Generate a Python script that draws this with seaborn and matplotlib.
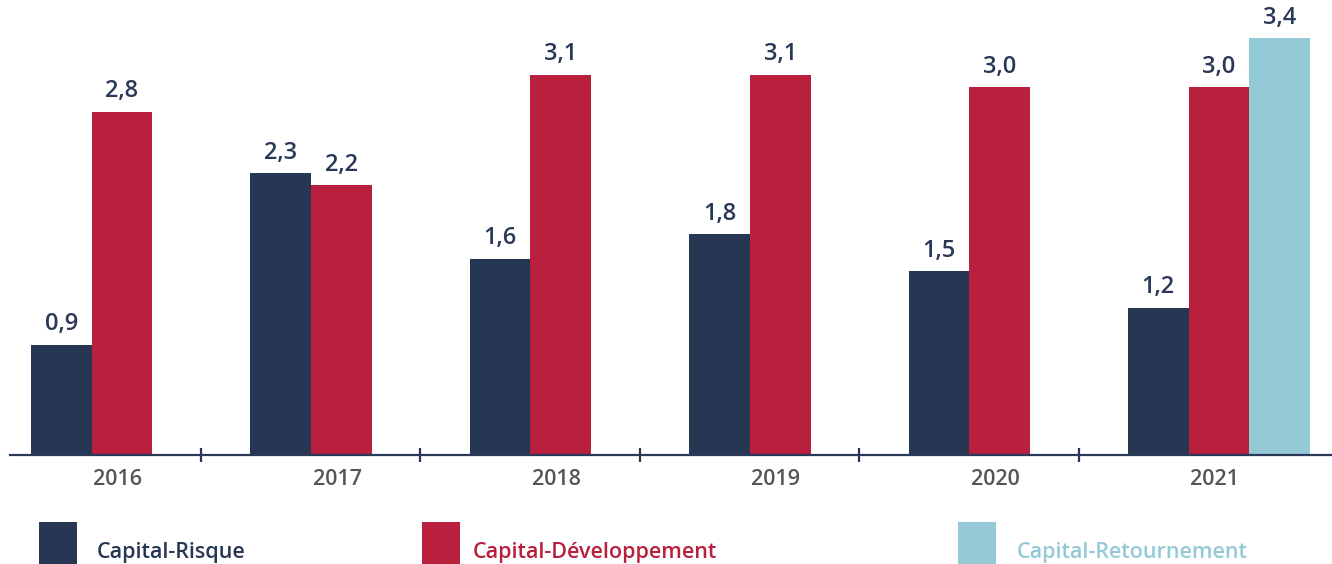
import pandas as pd
import matplotlib.pyplot as plt
import seaborn as sns
from matplotlib.patches import Rectangle

# values
years = ['2016', '2017', '2018', '2019', '2020', '2021']
risque = [0.9, 2.3, 1.6, 1.8, 1.5, 1.2]
developpement = [2.8, 2.2, 3.1, 3.1, 3.0, 3.0]
retournement_years = ['2021']
retournement = [3.4]

series = ['Capital-Risque', 'Capital-Développement', 'Capital-Retournement']
colors = ['#263653', '#B8203E', '#93CAD6']

rows = []
for y, v in zip(years, risque):
    rows.append([y, series[0], v])
for y, v in zip(years, developpement):
    rows.append([y, series[1], v])
for y, v in zip(retournement_years, retournement):
    rows.append([y, series[2], v])
df = pd.DataFrame(rows, columns=['year', 'type', 'value'])

sns.set_style('white')
plt.rcParams['font.family'] = ['Open Sans', 'DejaVu Sans']

W, H = 1332, 564
px = 219.4  # pixels per category
fig = plt.figure(figsize=(W / 100, H / 100), dpi=100)
ax = fig.add_axes([0, 109 / H, 1, (455 - 38) / H])

sns.barplot(data=df, x='year', y='value', hue='type', order=years,
            hue_order=series, palette=colors, saturation=1, width=0.83,
            dodge=True, linewidth=0, errorbar=None, legend=False, ax=ax)

for cont in ax.containers:
    ax.bar_label(cont, fmt=lambda v: f"{v:.1f}".replace('.', ','),
                 padding=6, fontsize=17, fontweight='semibold', color='#2a3858')

ax.set_ylim(0, 3.4)
ax.set_xlim(-122 / px, (W - 122) / px)

ax.set_yticks([])
ax.set_xticks([i - 0.02 for i in range(len(years))])
ax.set_xticklabels(years, fontsize=15.5, fontweight='semibold', color='#555555')
ax.tick_params(axis='x', which='major', length=0, pad=10)
ax.set_xticks([i + 0.36 for i in range(len(years) - 1)], minor=True)
ax.tick_params(axis='x', which='minor', bottom=True, length=10, width=1.6,
               direction='inout', color='#263653')
ax.set_xlabel('')
ax.set_ylabel('')

for side in ['top', 'right', 'left']:
    ax.spines[side].set_visible(False)
ax.spines['bottom'].set_color('#2c3a5a')
ax.spines['bottom'].set_linewidth(1.6)
ax.spines['bottom'].set_bounds((10 - 122) / px, (W - 122) / px)

# legend drawn by hand at the bottom
legend_x = [39, 422, 958]
text_x = [97, 473, 1017]
for lx, tx, name, c in zip(legend_x, text_x, series, colors):
    fig.add_artist(Rectangle((lx / W, 0), 38 / W, 42 / H,
                             transform=fig.transFigure, color=c, lw=0))
    fig.text(tx / W, (H - 558) / H, name, fontsize=15.5, fontweight='semibold',
             color=c, ha='left', va='baseline')

fig.savefig('out.png', dpi=100)
